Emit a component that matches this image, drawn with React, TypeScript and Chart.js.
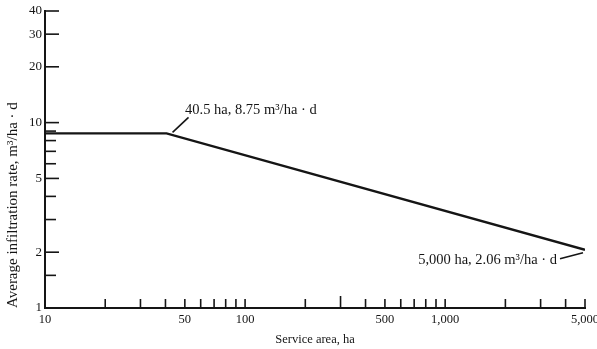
import React, { useEffect, useRef } from "react";
import { Chart, registerables } from "chart.js";

Chart.register(...registerables);

const serviceArea = [10, 40.5, 5000];
const infiltrationRate = [8.75, 8.75, 2.06];

const xTickValues = [10, 20, 30, 40, 50, 60, 70, 80, 90, 100, 200, 300, 400, 500, 600, 700, 800, 900, 1000, 2000, 3000, 4000, 5000];
const xTickLabels: Record<number, string> = { 10: "10", 50: "50", 100: "100", 500: "500", 1000: "1,000", 5000: "5,000" };
const yTickValues = [1, 1.5, 2, 3, 4, 5, 6, 7, 8, 9, 10, 20, 30, 40];
const yTickLabels: Record<number, string> = { 1: "1", 2: "2", 5: "5", 10: "10", 20: "20", 30: "30", 40: "40" };

const annotations = [
  { index: 1, text: "40.5 ha, 8.75 m\u00B3/ha \u00B7 d" },
  { index: 2, text: "5,000 ha, 2.06 m\u00B3/ha \u00B7 d" },
];

const xTitle = "Service area, ha";
const yTitle = "Average infiltration rate, m\u00B3/ha \u00B7 d";

const FONT = "'Liberation Serif', 'DejaVu Serif', serif";
const INK = "#151515";

const inwardTicks = {
  id: "inwardTicks",
  afterDraw(chart: any) {
    const { ctx, chartArea, scales } = chart;
    ctx.save();
    ctx.strokeStyle = INK;
    ctx.lineWidth = 1.6;
    xTickValues.forEach((v) => {
      if (v === 10) return;
      const x = scales.x.getPixelForValue(v);
      const len = v === 300 ? 12 : 9;
      ctx.beginPath();
      ctx.moveTo(x, chartArea.bottom);
      ctx.lineTo(x, chartArea.bottom - len);
      ctx.stroke();
    });
    yTickValues.forEach((v) => {
      if (v === 1) return;
      const y = scales.y.getPixelForValue(v);
      const len = yTickLabels[v] ? 14 : 11;
      ctx.beginPath();
      ctx.moveTo(chartArea.left, y);
      ctx.lineTo(chartArea.left + len, y);
      ctx.stroke();
    });
    ctx.restore();
  },
};

const notes = {
  id: "notes",
  afterDatasetsDraw(chart: any) {
    const { ctx, scales } = chart;
    ctx.save();
    ctx.fillStyle = INK;
    ctx.strokeStyle = INK;
    ctx.lineWidth = 1.6;
    ctx.font = `14.5px ${FONT}`;
    ctx.textBaseline = "middle";

    const a = annotations[0];
    const px1 = scales.x.getPixelForValue(serviceArea[a.index]);
    const py1 = scales.y.getPixelForValue(infiltrationRate[a.index]);
    ctx.beginPath();
    ctx.moveTo(px1 + 6, py1 - 1);
    ctx.lineTo(px1 + 22, py1 - 16);
    ctx.stroke();
    ctx.textAlign = "left";
    ctx.fillText(a.text, px1 + 18.5, py1 - 23.5);

    const b = annotations[1];
    const px2 = scales.x.getPixelForValue(serviceArea[b.index]);
    const py2 = scales.y.getPixelForValue(infiltrationRate[b.index]);
    ctx.beginPath();
    ctx.moveTo(px2 - 2, py2 + 3);
    ctx.lineTo(px2 - 25, py2 + 9);
    ctx.stroke();
    ctx.textAlign = "right";
    ctx.fillText(b.text, px2 - 28, py2 + 10);
    ctx.restore();
  },
};

export default function App() {
  const ref = useRef<HTMLCanvasElement | null>(null);
  useEffect(() => {
    document.body.style.margin = "0";
    const chart = new Chart(ref.current as HTMLCanvasElement, {
      type: "line",
      data: {
        datasets: [
          {
            data: serviceArea.map((x, i) => ({ x, y: infiltrationRate[i] })),
            borderColor: INK,
            borderWidth: 2.4,
            pointRadius: 0,
            tension: 0,
            fill: false,
          },
        ],
      },
      options: {
        animation: false,
        responsive: false,
        events: [],
        layout: { padding: { top: 11, right: 12, left: 0, bottom: 0 } },
        plugins: { legend: { display: false }, tooltip: { enabled: false } },
        scales: {
          x: {
            type: "logarithmic",
            min: 10,
            max: 5000,
            afterBuildTicks: (s: any) => {
              s.ticks = xTickValues.map((value) => ({ value }));
            },
            afterFit: (s: any) => {
              s.height = 41;
              s.paddingRight = 0;
              s.paddingLeft = 0;
            },
            grid: { display: false, drawTicks: false },
            border: { display: true, color: INK, width: 2 },
            ticks: {
              autoSkip: false,
              maxRotation: 0,
              padding: 4,
              color: INK,
              font: { family: FONT, size: 12.5 },
              callback: (v: any) => xTickLabels[Number(v)] ?? "",
            },
            title: {
              display: true,
              text: xTitle,
              color: INK,
              font: { family: FONT, size: 12.5 },
              padding: { top: 0, bottom: 2 },
            },
          },
          y: {
            type: "logarithmic",
            min: 1,
            max: 40,
            afterBuildTicks: (s: any) => {
              s.ticks = yTickValues.map((value) => ({ value }));
            },
            afterFit: (s: any) => {
              s.width = 45;
            },
            grid: { display: false, drawTicks: false },
            border: { display: true, color: INK, width: 2 },
            ticks: {
              autoSkip: false,
              padding: 3,
              color: INK,
              font: { family: FONT, size: 13 },
              callback: (v: any) => yTickLabels[Number(v)] ?? "",
            },
            title: {
              display: true,
              text: yTitle,
              align: "start",
              color: INK,
              font: { family: FONT, size: 15 },
              padding: { top: 4, bottom: 0 },
            },
          },
        },
      } as any,
      plugins: [inwardTicks, notes],
    });
    return () => chart.destroy();
  }, []);
  return (
    <div style={{ position: "absolute", left: 0, top: 0, width: 597, height: 349, background: "#fff" }}>
      <canvas ref={ref} width={597} height={349} style={{ width: 597, height: 349 }} />
    </div>
  );
}
